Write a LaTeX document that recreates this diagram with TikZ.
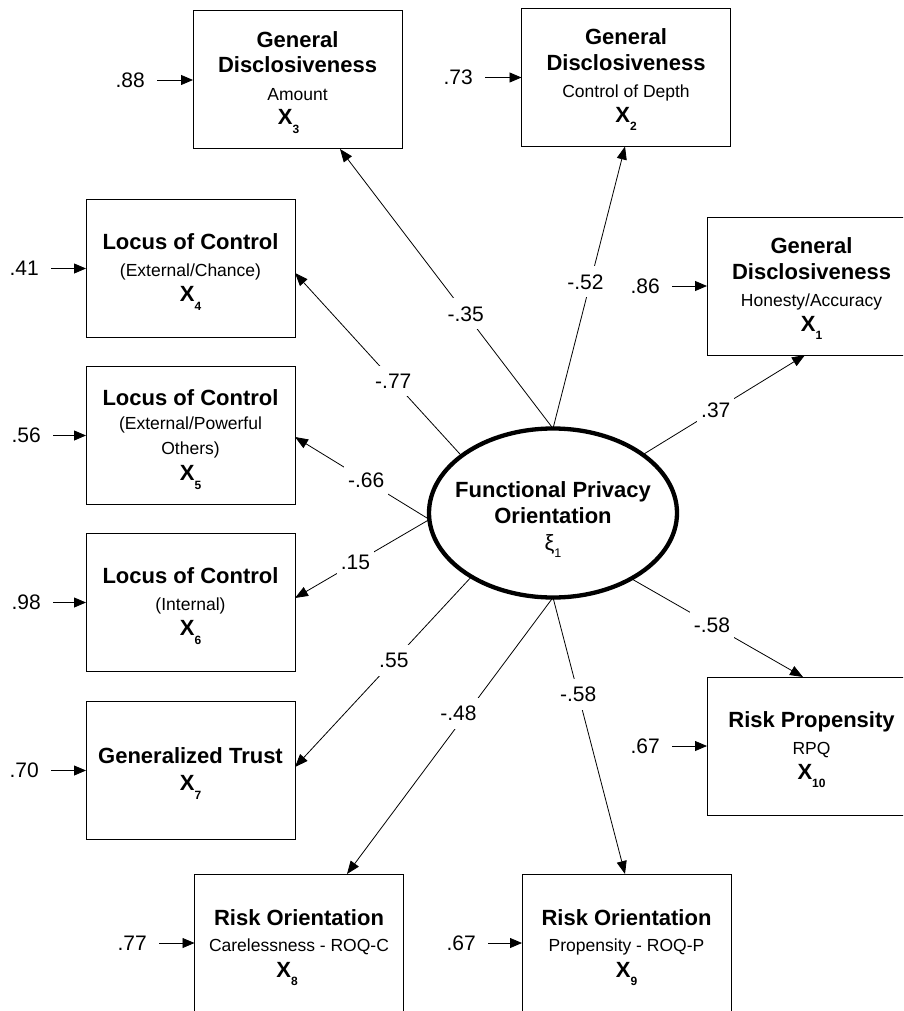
\documentclass[tikz,border=0pt]{standalone}
\usepackage{fontspec}
\setmainfont{Liberation Sans}
\usetikzlibrary{shapes.geometric,arrows.meta,calc}
% observed variable X_n and latent variable xi_1
\newcommand\obsvar[1]{X\raisebox{-8.5pt}{\fontsize{12}{12}\selectfont #1}}
\newcommand\latvar{ξ\raisebox{-7pt}{\fontsize{12.5}{12}\selectfont 1}}
\begin{document}
\begin{tikzpicture}[x=1pt,y=-1pt,
  box/.style={draw, line width=1pt, minimum width=209pt, minimum height=138pt, inner sep=0pt, outer sep=0pt},
  latent/.style={draw, ellipse, line width=4.3pt, minimum width=248pt, minimum height=169pt, inner sep=0pt, outer sep=0pt},
  ttl/.style={font=\fontsize{22}{26}\selectfont\bfseries, anchor=base, inner sep=0pt},
  subttl/.style={font=\fontsize{17.5}{21}\selectfont, anchor=base, inner sep=0pt},
  coef/.style={font=\fontsize{21}{25}\selectfont, inner sep=0pt},
  lab/.style={coef, fill=white, inner xsep=4pt, inner ysep=8pt},
  link/.style={line width=0.8pt, -{Triangle[length=13pt,width=10pt]}},
  resid/.style={line width=0.8pt, shorten <=12pt, -{Triangle[length=12pt,width=10pt]}}
]
\clip (0,0) rectangle (903,1011);

% latent factor
\node[latent] (fpo) at (553,513) {};
\node[ttl] at (553,497) {Functional Privacy};
\node[ttl] at (553,523) {Orientation};
\node[font=\fontsize{22}{26}\selectfont, anchor=base, inner sep=0pt] at (553,550) {\latvar};

% indicator boxes
\node[box] (x3) at (297.5,80) {};
\node[box] (x2) at (626,77.5) {};
\node[box] (x1) at (811.5,286) {};
\node[box] (x4) at (190.5,268.5) {};
\node[box] (x5) at (190.5,435.5) {};
\node[box] (x6) at (190.5,602.5) {};
\node[box] (x7) at (190.5,770.5) {};
\node[box] (x10) at (811.5,746) {};
\node[box] (x8) at (299,943) {};
\node[box] (x9) at (626.5,943) {};

% box texts
\node[ttl] at ($(x3.north)+(0,36.5)$) {General};
\node[ttl] at ($(x3.north)+(0,62)$) {Disclosiveness};
\node[subttl] at ($(x3.north)+(0,89.5)$) {Amount};
\node[ttl] at ($(x3.north)+(-9,114)$) {\obsvar{3}};

\node[ttl] at ($(x2.north)+(0,36.5)$) {General};
\node[ttl] at ($(x2.north)+(0,62)$) {Disclosiveness};
\node[subttl] at ($(x2.north)+(0,89.5)$) {Control of Depth};
\node[ttl] at ($(x2.north)+(0,114)$) {\obsvar{2}};

\node[ttl] at ($(x1.north)+(0,36.5)$) {General};
\node[ttl] at ($(x1.north)+(0,62)$) {Disclosiveness};
\node[subttl] at ($(x1.north)+(0,89.5)$) {Honesty/Accuracy};
\node[ttl] at ($(x1.north)+(0,114)$) {\obsvar{1}};

\node[ttl] at ($(x4.north)+(0,50)$) {Locus of Control};
\node[subttl] at ($(x4.north)+(0,77)$) {(External/Chance)};
\node[ttl] at ($(x4.north)+(0,102)$) {\obsvar{4}};

\node[ttl] at ($(x5.north)+(0,39)$) {Locus of Control};
\node[subttl] at ($(x5.north)+(0,62.5)$) {(External/Powerful};
\node[subttl] at ($(x5.north)+(0,87.5)$) {Others)};
\node[ttl] at ($(x5.north)+(0,114)$) {\obsvar{5}};

\node[ttl] at ($(x6.north)+(0,50)$) {Locus of Control};
\node[subttl] at ($(x6.north)+(0,77)$) {(Internal)};
\node[ttl] at ($(x6.north)+(0,102)$) {\obsvar{6}};

\node[ttl] at ($(x7.north)+(0,62)$) {Generalized Trust};
\node[ttl] at ($(x7.north)+(0,89)$) {\obsvar{7}};

\node[ttl] at ($(x10.north)+(0,50)$) {Risk Propensity};
\node[subttl] at ($(x10.north)+(0,77)$) {RPQ};
\node[ttl] at ($(x10.north)+(0,102)$) {\obsvar{10}};

\node[ttl] at ($(x8.north)+(0,51)$) {Risk Orientation};
\node[subttl] at ($(x8.north)+(0,77)$) {Carelessness - ROQ-C};
\node[ttl] at ($(x8.north)+(-12,103)$) {\obsvar{8}};

\node[ttl] at ($(x9.north)+(0,51)$) {Risk Orientation};
\node[subttl] at ($(x9.north)+(0,77)$) {Propensity - ROQ-P};
\node[ttl] at ($(x9.north)+(0,103)$) {\obsvar{9}};

% loadings
\draw[link] (fpo.north) -- node[lab, pos=0.41] {-.35} ($(x3.south)+(42.5,0)$);
\draw[link] (fpo.north) -- node[lab, pos=0.52, xshift=-5pt] {-.52} ($(x2.south)+(-1,0)$);
\draw[link] (fpo.33.7) -- node[lab, pos=0.45] {.37} ($(x1.south)+(-6.5,0)$);
\draw[link] (fpo.148) -- node[lab, pos=0.41] {-.77} ($(x4.east)+(0,4.5)$);
\draw[link] (fpo.183) -- node[lab, pos=0.47] {-.66} ($(x5.east)+(0,1.5)$);
\draw[link] (fpo.183) -- node[lab, pos=0.55] {.15} ($(x6.east)+(0,-4.5)$);
\draw[link] (fpo.218) -- node[lab, pos=0.44] {.55} ($(x7.east)+(0,-3.5)$);
\draw[link] (fpo.south) -- node[lab, pos=0.42, xshift=-8pt] {-.48} ($(x8.north)+(48,0)$);
\draw[link] (fpo.south) -- node[lab, pos=0.35] {-.58} ($(x9.north)+(-1.5,0)$);
\draw[link] (fpo.-40) -- node[lab, pos=0.47] {-.58} ($(x10.north)+(-8.5,0)$);

% residuals
\node[coef, anchor=east] (e3) at (145,80) {.88};
\node[coef, anchor=east] (e2) at (473,77.5) {.73};
\node[coef, anchor=east] (e1) at (660,286) {.86};
\node[coef, anchor=east] (e4) at (39,268.5) {.41};
\node[coef, anchor=east] (e5) at (41,435.5) {.56};
\node[coef, anchor=east] (e6) at (41,602.5) {.98};
\node[coef, anchor=east] (e7) at (39,770.5) {.70};
\node[coef, anchor=east] (e10) at (660,746) {.67};
\node[coef, anchor=east] (e8) at (147,943) {.77};
\node[coef, anchor=east] (e9) at (476,943) {.67};
\foreach \e/\x in {e3/x3,e2/x2,e1/x1,e4/x4,e5/x5,e6/x6,e7/x7,e10/x10,e8/x8,e9/x9}
  \draw[resid] (\e.east) -- (\x.west);
\end{tikzpicture}
\end{document}
